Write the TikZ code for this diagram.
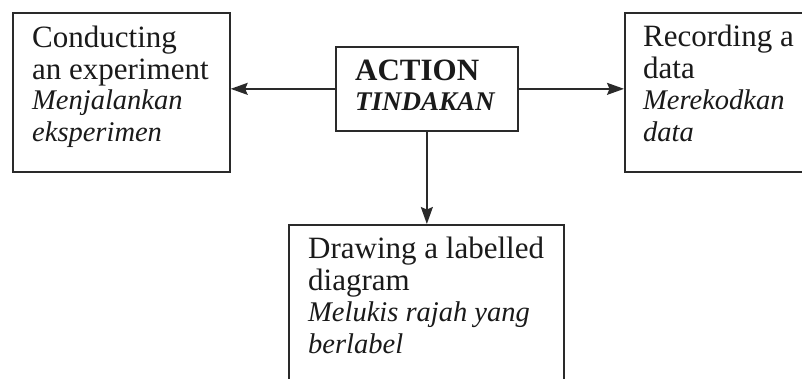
\documentclass[tikz,border=0pt]{standalone}
\usepackage{fontspec}
\setmainfont{Liberation Serif}
\usetikzlibrary{arrows.meta}
\definecolor{ink}{HTML}{1A1A1A}
\definecolor{edge}{HTML}{2A2A2A}
\newcommand{\romsz}{\fontsize{31}{32}\selectfont}
\newcommand{\itsz}{\fontsize{28.5}{32}\selectfont\itshape}
\tikzset{
  boxnode/.style={draw=edge, line width=1.7pt, inner sep=0pt, anchor=north west},
  txtnode/.style={inner sep=0pt, anchor=base west, text=ink},
  conn/.style={draw=edge, line width=1.5pt, -{Stealth[length=17pt,width=12pt,inset=2.5pt]}}
}
\begin{document}
\begin{tikzpicture}[x=1pt,y=-1pt]
\useasboundingbox (0,0) rectangle (802,378);
\clip (0,0) rectangle (802,378);
\fill[white] (0,0) rectangle (802,378);
% boxes
\node[boxnode, minimum width=217pt, minimum height=159pt] (left) at (12,12) {};
\node[boxnode, minimum width=182pt, minimum height=84pt] (center) at (335,46) {};
\node[boxnode, minimum width=200pt, minimum height=159pt] (right) at (624,12) {};
\node[boxnode, minimum width=275pt, minimum height=180pt] (bottom) at (288,224) {};
% texts
\node[txtnode] (lefttxt) at (32,47) {\parbox[t]{200pt}{\raggedright\romsz Conducting\\an experiment\\[-2pt]{\itsz Menjalankan\\eksperimen}}};
\node[txtnode] (centertxt) at (355,80) {\parbox[t]{160pt}{\raggedright\fontsize{31}{30}\selectfont\bfseries ACTION\\{\fontsize{27}{30}\selectfont\bfseries\itshape TINDAKAN}}};
\node[txtnode] (righttxt) at (643,46) {\parbox[t]{170pt}{\raggedright\romsz Recording a\\data\\[-1pt]{\itsz Merekodkan\\data}}};
\node[txtnode] (bottomtxt) at (308,258) {\parbox[t]{260pt}{\raggedright\romsz Drawing a labelled\\diagram\\[-1pt]{\itsz Melukis rajah yang\\berlabel}}};
% connectors
\draw[conn] (center.west) -- (center.west -| left.east);
\draw[conn] (center.east) -- (center.east -| right.west);
\draw[conn] (center.south) -- (center.south |- bottom.north);
\end{tikzpicture}
\end{document}
